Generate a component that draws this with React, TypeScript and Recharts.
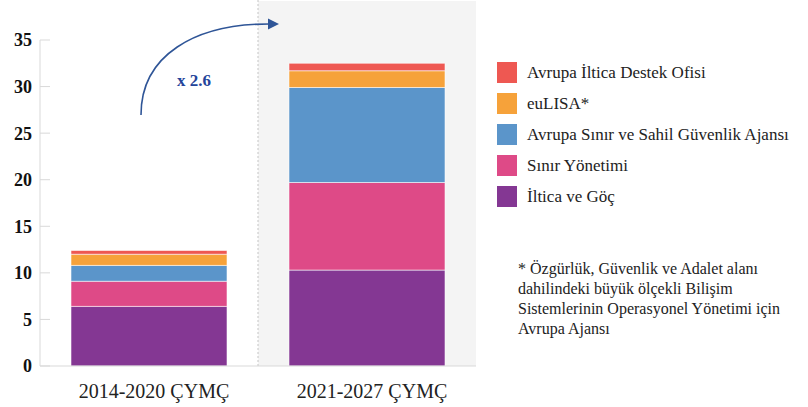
import { BarChart, Bar, XAxis, YAxis, Legend, ReferenceArea, ReferenceLine } from 'recharts';

const SERIF = '"Liberation Serif", "Times New Roman", serif';

// MFF periods and their budget (bn EUR), stacked bottom to top
const periods = ['2014-2020 ÇYMÇ', '2021-2027 ÇYMÇ'];
const ilticaVeGoc = [6.4, 10.3];
const sinirYonetimi = [2.7, 9.4];
const sinirVeSahil = [1.7, 10.2];
const euLisa = [1.2, 1.8];
const destekOfisi = [0.4, 0.8];

const yTicks = [0, 5, 10, 15, 20, 25, 30, 35];

const seriesList = [
  { key: 'iltica', name: 'İltica ve Göç', color: '#843793', values: ilticaVeGoc },
  { key: 'sinir', name: 'Sınır Yönetimi', color: '#de4a87', values: sinirYonetimi },
  { key: 'frontex', name: 'Avrupa Sınır ve Sahil Güvenlik Ajansı', color: '#5b95ca', values: sinirVeSahil },
  { key: 'eulisa', name: 'euLISA*', color: '#f6a23a', values: euLisa },
  { key: 'easo', name: 'Avrupa İltica Destek Ofisi', color: '#ee5852', values: destekOfisi },
];

const footnote = [
  '* Özgürlük, Güvenlik ve Adalet alanı',
  'dahilindeki büyük ölçekli Bilişim',
  'Sistemlerinin Operasyonel Yönetimi için',
  'Avrupa Ajansı',
];

const data = periods.map((period, i) => {
  const row: Record<string, string | number> = { period };
  seriesList.forEach(s => {
    row[s.key] = s.values[i];
  });
  return row;
});

// top of the stack listed first
const LegendBox = () => (
  <div style={{ fontFamily: SERIF, fontSize: 17, color: '#222' }}>
    {[...seriesList].reverse().map(s => (
      <div key={s.key} style={{ display: 'flex', alignItems: 'center', height: 31, whiteSpace: 'nowrap' }}>
        <span style={{ display: 'inline-block', width: 20, height: 21, background: s.color, marginRight: 10 }} />
        <span>{s.name}</span>
      </div>
    ))}
  </div>
);

export default function App() {
  return (
    <div style={{ position: 'absolute', left: 0, top: 0, width: 808, height: 407, background: '#fff' }}>
      <BarChart
        width={808}
        height={407}
        data={data}
        margin={{ top: 40, right: 332, bottom: 11, left: 0 }}
      >
        <ReferenceArea
          x1={periods[1]}
          x2={periods[1]}
          y1={0}
          y2={39.2}
          fill="#f4f4f4"
          fillOpacity={1}
          stroke="none"
          ifOverflow="visible"
        />
        <ReferenceLine
          segment={[{ x: periods[1], y: 0 }, { x: periods[1], y: 39.3 }]}
          position="start"
          stroke="#c4c4c4"
          strokeDasharray="2 2"
          ifOverflow="visible"
        />
        <XAxis
          dataKey="period"
          height={30}
          stroke="#d9d9d9"
          tickLine={false}
          tickMargin={12}
          tick={{ fontFamily: SERIF, fontSize: 20, fill: '#222', dx: 5 }}
        />
        <YAxis
          width={40}
          domain={[0, 35]}
          ticks={yTicks}
          stroke="#d9d9d9"
          tickSize={-10}
          tickMargin={18}
          tick={{ fontFamily: SERIF, fontSize: 18, fontWeight: 700, fill: '#111' }}
        />
        {seriesList.map(s => (
          <Bar
            key={s.key}
            dataKey={s.key}
            name={s.name}
            stackId="total"
            fill={s.color}
            stroke="#ffffff"
            strokeOpacity={0.7}
            strokeWidth={0.8}
            barSize={156}
            isAnimationActive={false}
          />
        ))}
        <Legend
          layout="vertical"
          align="center"
          verticalAlign="middle"
          content={LegendBox}
          wrapperStyle={{ left: 497, top: 57, width: 310, height: 160 }}
        />
      </BarChart>

      {/* growth arrow between the two periods */}
      <svg width={808} height={407} style={{ position: 'absolute', left: 0, top: 0, pointerEvents: 'none' }}>
        <path d="M141,115 C141,55 195,24 269,24" fill="none" stroke="#2f5597" strokeWidth={1.6} />
        <path d="M268,18.5 L279,24 L268,29.5 Z" fill="#2f5597" />
        <text x={177} y={86} fontFamily={SERIF} fontSize={17} fontWeight={700} fill="#24449a">
          x 2.6
        </text>
      </svg>

      <div
        style={{
          position: 'absolute',
          left: 518,
          top: 259,
          fontFamily: SERIF,
          fontSize: 16,
          lineHeight: '20px',
          color: '#222',
          whiteSpace: 'nowrap',
        }}
      >
        {footnote.map(line => (
          <div key={line}>{line}</div>
        ))}
      </div>
    </div>
  );
}
